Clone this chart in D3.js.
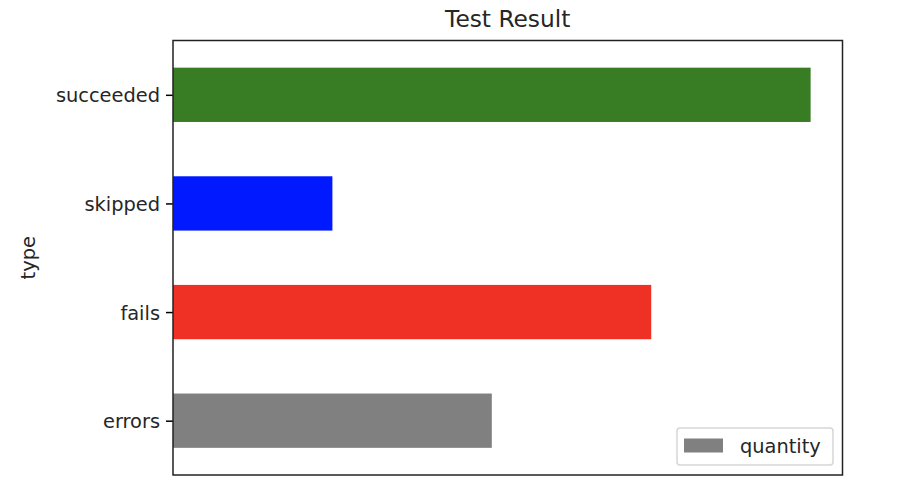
<!DOCTYPE html>
<html>
<head>
<meta charset="utf-8">
<script src="https://cdn.jsdelivr.net/npm/d3@7"></script>
<style>
  html, body { margin: 0; padding: 0; background: #fff; }
  svg { display: block; font-family: "DejaVu Sans", sans-serif; }
  svg text { font-family: "DejaVu Sans", sans-serif; }
</style>
</head>
<body>
<svg id="chart" width="908" height="504"></svg>
<script>
// Data
const categories = ["errors", "fails", "skipped", "succeeded"];
const quantities = [2, 3, 1, 4];
const barColors = ["#808080", "#ee3124", "#0019ff", "#387c23"];
const title = "Test Result";
const yLabel = "type";
const legendLabel = "quantity";

const svg = d3.select("#chart");
const W = 908, H = 504;
const margin = { left: 173, right: W - 842.5, top: 40.5, bottom: H - 475 };
const plotW = W - margin.left - margin.right;
const plotH = H - margin.top - margin.bottom;

const maxV = d3.max(quantities);
const x = d3.scaleLinear().domain([0, maxV * 1.05]).range([0, plotW]);
const y = d3.scaleLinear().domain([-0.5, categories.length - 0.5]).range([plotH, 0]);
const barH = (y(0) - y(0.5));

const g = svg.append("g").attr("transform", `translate(${margin.left},${margin.top})`);

// Bars
g.selectAll("rect.bar")
  .data(categories)
  .enter().append("rect")
  .attr("class", "bar")
  .attr("x", x(0))
  .attr("y", (d, i) => y(i + 0.25))
  .attr("width", (d, i) => x(quantities[i]) - x(0))
  .attr("height", barH)
  .attr("fill", (d, i) => barColors[i]);

// Y axis
const yAxis = d3.axisLeft(y)
  .tickValues(d3.range(categories.length))
  .tickFormat(i => categories[i])
  .tickSize(7)
  .tickPadding(6);
const ya = g.append("g").call(yAxis)
  .attr("font-family", "DejaVu Sans, sans-serif");
ya.select(".domain").remove();
ya.selectAll(".tick line").attr("stroke", "#000").attr("stroke-width", 1.5);
ya.selectAll(".tick text")
  .attr("fill", "#262626")
  .style("font-size", "19.4px")
  .attr("dy", "0.36em");

// Frame
g.append("rect")
  .attr("x", 0).attr("y", 0)
  .attr("width", plotW).attr("height", plotH)
  .attr("fill", "none")
  .attr("stroke", "#222")
  .attr("stroke-width", 1.5);

// Title
svg.append("text")
  .attr("x", margin.left + plotW / 2)
  .attr("y", 27)
  .attr("text-anchor", "middle")
  .attr("fill", "#262626")
  .style("font-size", "23.3px")
  .text(title);

// Y label
svg.append("text")
  .attr("transform", `translate(35,${margin.top + plotH / 2}) rotate(-90)`)
  .attr("text-anchor", "middle")
  .attr("fill", "#262626")
  .style("font-size", "19.4px")
  .text(yLabel);

// Legend
const lg = svg.append("g").attr("transform", "translate(677,428)");
lg.append("rect")
  .attr("x", 0).attr("y", 0)
  .attr("width", 156).attr("height", 37)
  .attr("rx", 3).attr("ry", 3)
  .attr("fill", "#fff").attr("fill-opacity", 0.8)
  .attr("stroke", "#d6d6d6").attr("stroke-width", 1.5);
lg.append("rect")
  .attr("x", 7).attr("y", 10.5)
  .attr("width", 39).attr("height", 14)
  .attr("fill", barColors[0]);
lg.append("text")
  .attr("x", 63).attr("y", 25)
  .attr("fill", "#262626")
  .style("font-size", "19.4px")
  .text(legendLabel);
</script>
</body>
</html>
